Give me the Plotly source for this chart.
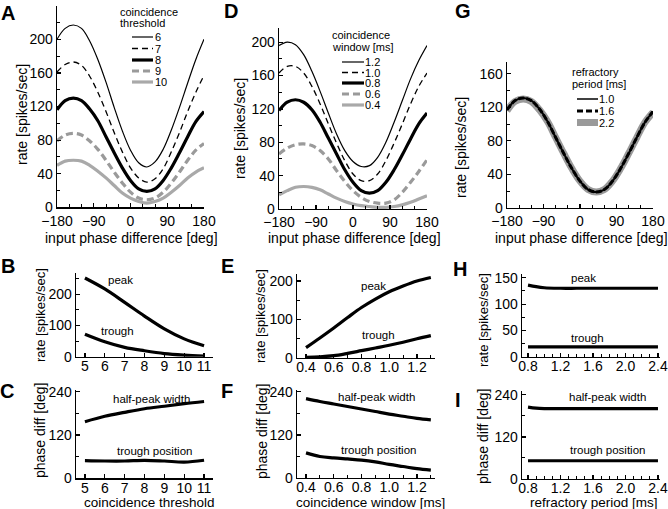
import plotly.graph_objects as go

# ---------------- data ----------------
phase_deg = [-180, -160, -140, -120, -100, -80, -60, -40, -20, 0, 20, 40, 60, 80, 100, 120, 140, 160, 180]
phase_ticks = [-180, -90, 0, 90, 180]

# Panel A: coincidence threshold
thr_names = ["6", "7", "8", "9", "10"]
rate_thr6 = [200, 213, 217, 213, 198, 176, 149, 119, 91, 68, 53, 48, 54, 69, 92, 119, 148, 176, 200]
rate_thr7 = [161, 170, 173, 169, 156, 137, 114, 89, 66, 47, 35, 30, 34, 46, 66, 89, 114, 137, 157]
rate_thr8 = [116, 127, 130, 127, 117, 103, 84, 65, 47, 32, 22, 19, 22, 32, 47, 65, 84, 102, 114]
rate_thr9 = [79, 86, 88, 86, 79, 69, 56, 42, 29, 18, 11, 9, 11, 18, 29, 42, 56, 68, 76]
rate_thr10 = [50, 55, 56, 55, 50, 43, 35, 26, 17, 11, 7, 5, 7, 11, 18, 26, 35, 42, 47]

# Panel D: coincidence window [ms]
win_names = ["1.2", "1.0", "0.8", "0.6", "0.4"]
rate_win12 = [196, 200, 197, 185, 165, 141, 115, 90, 70, 57, 51, 52, 62, 80, 104, 130, 156, 178, 196]
rate_win10 = [163, 171, 171, 163, 147, 126, 102, 79, 58, 42, 34, 34, 42, 58, 79, 102, 126, 147, 163]
rate_win08 = [118, 128, 131, 128, 119, 104, 85, 66, 47, 32, 22, 19, 22, 32, 47, 65, 84, 102, 115]
rate_win06 = [66, 73, 77, 78, 76, 70, 60, 46, 33, 22, 14, 9, 7, 7, 11, 20, 32, 45, 59]
rate_win04 = [17, 22, 26, 27, 26, 23, 18, 13, 9, 6, 4, 3, 2, 2, 3, 5, 8, 12, 16]

# Panel G: refractory period [ms]
ref_names = ["1.0", "1.6", "2.2"]
rate_ref10 = [117, 128, 131, 128, 118, 103, 84, 65, 47, 32, 22, 19, 22, 32, 47, 65, 84, 102, 115]
rate_ref16 = [117, 128, 131, 128, 118, 103, 84, 65, 47, 32, 22, 19, 22, 32, 47, 65, 84, 102, 115]
rate_ref22 = [116, 127, 130, 127, 117, 103, 84, 65, 47, 32, 22, 19, 22, 32, 47, 65, 84, 102, 114]

# Panels B, C
threshold = [5, 6, 7, 8, 9, 10, 11]
peak_thr = [252, 217, 174, 130, 89, 57, 35]
trough_thr = [72, 48, 30, 19, 10, 5, 2]
hpw_thr = [157, 172, 183, 193, 200, 207, 213]
tpos_thr = [49, 48, 48, 50, 48, 45, 50]

# Panels E, F
window = [0.4, 0.5, 0.6, 0.7, 0.8, 0.9, 1.0, 1.1, 1.2, 1.3]
peak_win = [27, 52, 78, 105, 131, 153, 172, 187, 200, 209]
trough_win = [2, 3, 6, 12, 19, 26, 33, 41, 50, 58]
hpw_win = [221, 213, 206, 199, 192, 185, 178, 172, 166, 162]
tpos_win = [70, 60, 56, 53, 50, 45, 38, 32, 26, 22]

# Panels H, I
refractory = [0.8, 0.9, 1.0, 1.2, 1.4, 1.6, 1.8, 2.0, 2.2, 2.4]
peak_ref = [136, 133, 131, 130, 130, 130, 130, 130, 130, 130]
trough_ref = [19, 19, 19, 19, 19, 19, 19, 19, 19, 19]
hpw_ref = [205, 202, 201, 201, 201, 201, 201, 201, 201, 201]
tpos_ref = [52, 52, 52, 52, 52, 52, 52, 52, 52, 52]

# ---------------- layout helpers ----------------
W, H = 668, 509
FONT = "Liberation Sans, Arial, Helvetica, sans-serif"


def fx(p):
    return p / W


def fy(p):
    return 1 - p / H


fig = go.Figure()

panels = {
    "A": dict(n=1, x=(57, 204), y=(5.7, 207.3), xr=[-180, 180], yr=[0, 240], top=True),
    "D": dict(n=2, x=(279, 427), y=(28, 209), xr=[-180, 180], yr=[0, 217], top=True),
    "G": dict(n=3, x=(507, 653), y=(62, 208), xr=[-180, 180], yr=[0, 174], top=True),
    "B": dict(n=4, x=(76, 213), y=(273.3, 356.7), xr=[4.55, 11.45], yr=[0, 267], top=False),
    "C": dict(n=5, x=(76, 213), y=(390, 478.3), xr=[4.55, 11.45], yr=[0, 245], top=False),
    "E": dict(n=6, x=(297, 435), y=(274, 358), xr=[0.335, 1.33], yr=[0, 218], top=False),
    "F": dict(n=7, x=(297, 435), y=(390, 478), xr=[0.335, 1.33], yr=[0, 245], top=False),
    "H": dict(n=8, x=(522, 660), y=(274, 357), xr=[0.726, 2.425], yr=[0, 157], top=False),
    "I": dict(n=9, x=(522, 660), y=(391, 479), xr=[0.726, 2.425], yr=[0, 251], top=False),
}

xticks = {
    "A": dict(tickvals=phase_ticks, minor=30, mtick0=-180),
    "D": dict(tickvals=phase_ticks, minor=30, mtick0=-180),
    "G": dict(tickvals=phase_ticks, minor=30, mtick0=-180),
    "B": dict(tickvals=threshold, minor=None),
    "C": dict(tickvals=threshold, minor=None),
    "E": dict(tickvals=[0.4, 0.6, 0.8, 1.0, 1.2], minor=0.1, mtick0=0.4, fmt=".1f"),
    "F": dict(tickvals=[0.4, 0.6, 0.8, 1.0, 1.2], minor=0.1, mtick0=0.4, fmt=".1f"),
    "H": dict(tickvals=[0.8, 1.2, 1.6, 2.0, 2.4], minor=0.1, mtick0=0.8, fmt=".1f"),
    "I": dict(tickvals=[0.8, 1.2, 1.6, 2.0, 2.4], minor=0.1, mtick0=0.8, fmt=".1f"),
}
yticks = {
    "A": dict(tickvals=[0, 40, 80, 120, 160, 200, 240], minor=20),
    "D": dict(tickvals=[0, 40, 80, 120, 160, 200], minor=20),
    "G": dict(tickvals=[0, 40, 80, 120, 160], minor=20),
    "B": dict(tickvals=[0, 100, 200], minor=50),
    "C": dict(tickvals=[0, 120, 240], minor=60),
    "E": dict(tickvals=[0, 100, 200], minor=50),
    "F": dict(tickvals=[0, 120, 240], minor=60),
    "H": dict(tickvals=[0, 50, 100, 150], minor=25),
    "I": dict(tickvals=[0, 120, 240], minor=60),
}

base_axis = dict(
    showline=True, linecolor="black", linewidth=1.4, mirror=False,
    ticks="inside", ticklen=4, tickwidth=1.2, tickcolor="black",
    showgrid=False, zeroline=False, fixedrange=True, automargin=False,
    tickfont=dict(family=FONT, size=14, color="black"),
)

layout_axes = {}
for key, p in panels.items():
    n = p["n"]
    xs = "" if n == 1 else str(n)
    xt, yt = xticks[key], yticks[key]
    xa = dict(base_axis, domain=[fx(p["x"][0]), fx(p["x"][1])], range=p["xr"],
              anchor="y" + xs, tickmode="array", tickvals=xt["tickvals"])
    if not p["top"]:
        xa["ticklabelstandoff"] = -4
    if xt.get("fmt"):
        xa["tickformat"] = xt["fmt"]
    if xt.get("minor"):
        xa["minor"] = dict(ticks="inside", ticklen=3, tickwidth=1, tickcolor="black",
                           dtick=xt["minor"], tick0=xt["mtick0"], showgrid=False)
    ya = dict(base_axis, domain=[fy(p["y"][1]), fy(p["y"][0])], range=p["yr"],
              anchor="x" + xs, tickmode="array", tickvals=yt["tickvals"])
    ya["minor"] = dict(ticks="inside", ticklen=3, tickwidth=1, tickcolor="black",
                       dtick=yt["minor"], tick0=0, showgrid=False)
    layout_axes["xaxis" + xs] = xa
    layout_axes["yaxis" + xs] = ya


def ax_ids(key):
    n = panels[key]["n"]
    s = "" if n == 1 else str(n)
    return "x" + s, "y" + s


BLACK = "black"
GRAY_D = "#9a9a9a"
GRAY_S = "#a9a9a9"

styles5 = [
    dict(width=1.2, dash="solid", color=BLACK),
    dict(width=1.3, dash="6px,4px", color=BLACK),
    dict(width=3.2, dash="solid", color=BLACK),
    dict(width=3.2, dash="7px,4px", color=GRAY_D),
    dict(width=3.2, dash="solid", color=GRAY_S),
]


def add_line(key, x, y, style, name):
    xa, ya = ax_ids(key)
    fig.add_trace(go.Scatter(x=x, y=y, xaxis=xa, yaxis=ya, mode="lines", name=name,
                             showlegend=False, hoverinfo="skip",
                             line=dict(shape="spline", smoothing=1.0, **style)))


for name, vals, st in zip(thr_names, [rate_thr6, rate_thr7, rate_thr8, rate_thr9, rate_thr10], styles5):
    add_line("A", phase_deg, vals, st, name)
for name, vals, st in zip(win_names, [rate_win12, rate_win10, rate_win08, rate_win06, rate_win04], styles5):
    add_line("D", phase_deg, vals, st, name)
styles3 = [
    dict(width=2.0, dash="solid", color=BLACK),
    dict(width=3.0, dash="6px,2px", color=BLACK),
    dict(width=7.0, dash="solid", color=GRAY_D),
]
for name, vals, st in reversed(list(zip(ref_names, [rate_ref10, rate_ref16, rate_ref22], styles3))):
    add_line("G", phase_deg, vals, st, name)

thick = dict(width=3.2, dash="solid", color=BLACK)
add_line("B", threshold, peak_thr, thick, "peak")
add_line("B", threshold, trough_thr, thick, "trough")
add_line("C", threshold, hpw_thr, thick, "half-peak width")
add_line("C", threshold, tpos_thr, thick, "trough position")
add_line("E", window, peak_win, thick, "peak")
add_line("E", window, trough_win, thick, "trough")
add_line("F", window, hpw_win, thick, "half-peak width")
add_line("F", window, tpos_win, thick, "trough position")
add_line("H", refractory, peak_ref, thick, "peak")
add_line("H", refractory, trough_ref, thick, "trough")
add_line("I", refractory, hpw_ref, thick, "half-peak width")
add_line("I", refractory, tpos_ref, thick, "trough position")

# ---------------- annotations ----------------
annotations = []
shapes = []


def text(x, y, s, size=14, xanchor="center", angle=0, bold=False):
    annotations.append(dict(
        x=fx(x), y=fy(y), xref="paper", yref="paper", text=("<b>%s</b>" % s) if bold else s,
        showarrow=False, xanchor=xanchor, yanchor="middle", textangle=angle,
        font=dict(family=FONT, size=size, color="black"), borderpad=0,
    ))


for L, (x, y) in {"A": (8, 13), "D": (231, 11), "G": (463, 11), "B": (8, 266), "C": (7, 391),
                  "E": (227, 266), "F": (227, 391), "H": (460, 269), "I": (458, 400)}.items():
    text(x, y, L, size=20, bold=True)

for (x, y) in [(22, 115), (240, 129), (461, 148)]:
    text(x, y, "rate [spikes/sec]", size=14, angle=-90)
for x in [131, 354, 581]:
    text(x, 238, "input phase difference [deg]", size=14)
for (x, y) in [(40, 315), (260, 316), (483, 320)]:
    text(x, y, "rate [spikes/sec]", size=13, angle=-90)
for (x, y) in [(40, 431), (262, 432), (483, 436)]:
    text(x, y, "phase diff [deg]", size=14, angle=-90)
text(149, 502.5, "coincidence threshold", size=13.5)
text(370, 502.5, "coincidence window [ms]", size=13.5)
text(594, 502.5, "refractory period [ms]", size=13.5)

for (x, y, s) in [(120, 280, "peak"), (117, 331, "trough"), (151, 399, "half-peak width"),
                  (154, 451, "trough position"), (373, 286, "peak"), (379, 335, "trough"),
                  (376, 397, "half-peak width"), (379, 450, "trough position"),
                  (583, 278, "peak"), (587, 338, "trough"), (607, 397, "half-peak width"),
                  (607, 450, "trough position")]:
    text(x, y, s, size=11.5)


def legend(title_lines, tx, ty, names, styles, lx0, lx1, ys, labx):
    for i, t in enumerate(title_lines):
        text(tx, ty[i], t, size=11, xanchor="left")
    for name, st, yy in zip(names, styles, ys):
        shapes.append(dict(type="line", xref="paper", yref="paper", x0=fx(lx0), x1=fx(lx1),
                           y0=fy(yy), y1=fy(yy), line=st))
        text(labx, yy, name, size=11, xanchor="left")


legend(["coincidence", "threshold"], 119, [12, 23], thr_names, styles5, 132, 153,
       [37, 48.5, 60, 71, 82], 154)
legend(["coincidence", "window [ms]"], 331, [35, 47], win_names, styles5, 342, 364,
       [62, 72.5, 83, 94, 105], 364)
legend(["refractory", "period [ms]"], 571, [72, 84], ref_names,
       [dict(width=1.5, dash="solid", color=BLACK), dict(width=3.0, dash="6px,3px", color=BLACK),
        dict(width=7.0, dash="solid", color=GRAY_D)], 577, 598, [99, 111, 122.5], 598)

fig.update_layout(
    template="none",
    width=W, height=H, autosize=False,
    margin=dict(l=0, r=0, t=0, b=0, pad=0),
    paper_bgcolor="white", plot_bgcolor="white",
    showlegend=False,
    font=dict(family=FONT, size=14, color="black"),
    annotations=annotations, shapes=shapes,
    **layout_axes,
)

# remove the browser's default page margin so the figure fills the window exactly
fig.write_html(
    "out.html",
    config={"displayModeBar": False, "staticPlot": True},
    post_script="document.body.style.margin='0';document.body.style.padding='0';"
                "document.documentElement.style.overflow='hidden';",
)
